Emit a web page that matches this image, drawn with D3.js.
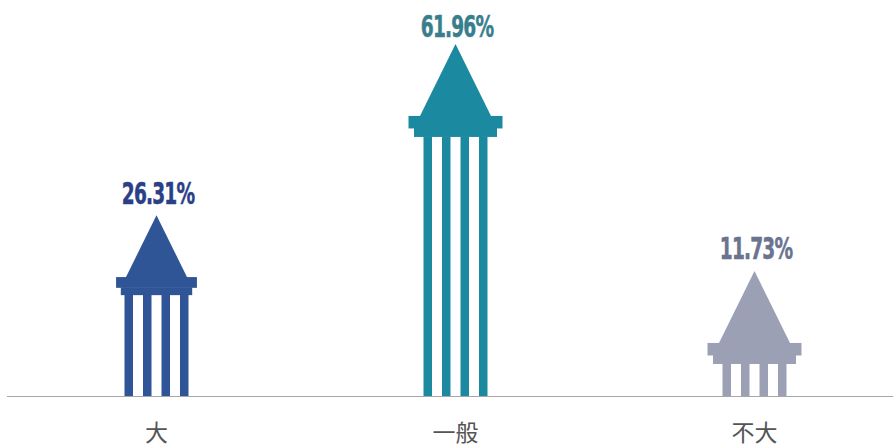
<!DOCTYPE html>
<html>
<head>
<meta charset="utf-8">
<script src="https://cdn.jsdelivr.net/npm/d3@7"></script>
<style>
  html, body { margin: 0; padding: 0; background: #ffffff; }
  svg { display: block; }
</style>
</head>
<body>
<svg id="chart" width="893" height="447"></svg>
<script>
// ---- data ----
const categories = ["大", "一般", "不大"];
const values = [26.31, 61.96, 11.73];
const valueLabels = ["26.31%", "61.96%", "11.73%"];

// ---- styles ----
const fills = ["#2f5597", "#1b89a0", "#9ca0b4"];
const labelColors = ["#2b3f86", "#3a7e8e", "#6a7390"];
const shapeScale = [0.86, 1, 1];
const labelLift = [73.5, 79, 83.5];

const W = 893, H = 447;
const svg = d3.select("#chart");

const x = d3.scaleBand().domain(categories).range([7, 904]).padding(0);
const y = d3.scaleLinear().domain([0, 100]).range([396, -56]);

const data = categories.map((c, i) => ({ c, v: values[i], i }));

const g = svg.append("g");

data.forEach(d => {
  const cx = x(d.c) + x.bandwidth() / 2;
  const top = y(d.v);
  const s = shapeScale[d.i];
  const base = y(0);
  const grp = g.append("g").attr("fill", fills[d.i]);
  // roof
  grp.append("path")
    .attr("d", `M${cx},${top - 72 * s} L${cx + 36 * s},${top + 1} L${cx - 36 * s},${top + 1} Z`);
  // cornice upper
  grp.append("rect")
    .attr("x", cx - 47 * s).attr("y", top)
    .attr("width", 94 * s).attr("height", 12.5 * s);
  // cornice lower
  grp.append("rect")
    .attr("x", cx - 41.5 * s).attr("y", top + 12.5 * s - 0.5)
    .attr("width", 83 * s).attr("height", 8.5 * s + 0.5);
  // columns
  for (let k = 0; k < 4; k++) {
    const cc = cx + (k - 1.5) * 18.5;
    grp.append("rect")
      .attr("x", cc - 4.25).attr("y", top + 21 * s - 0.5)
      .attr("width", 8.5).attr("height", base - (top + 21 * s) + 0.5);
  }
  // value label (condensed)
  svg.append("text")
    .attr("transform", `translate(${cx + 1.5},${top - labelLift[d.i]}) scale(0.70,1)`)
    .attr("text-anchor", "middle")
    .attr("fill", labelColors[d.i])
    .attr("stroke", labelColors[d.i])
    .attr("stroke-width", 0.5)
    .style("font-family", "'DejaVu Sans Condensed', 'DejaVu Sans', sans-serif")
    .style("font-weight", "bold")
    .style("font-size", "29.5px")
    .style("letter-spacing", "-1.2px")
    .text(valueLabels[d.i]);
});

// axis line
svg.append("line")
  .attr("x1", 7).attr("x2", W).attr("y1", 396.5).attr("y2", 396.5)
  .attr("stroke", "#a6a6a6").attr("stroke-width", 1);

// category labels
const xAxis = d3.axisBottom(x).tickSize(0).tickPadding(0);
const ax = svg.append("g").attr("transform", "translate(0,396)").call(xAxis);
ax.select(".domain").remove();
ax.selectAll("text")
  .attr("y", 44.5).attr("dy", 0)
  .attr("fill", "#555555")
  .style("font-family", "'Noto Sans CJK SC', sans-serif")
  .style("font-size", "23px");
</script>
</body>
</html>
